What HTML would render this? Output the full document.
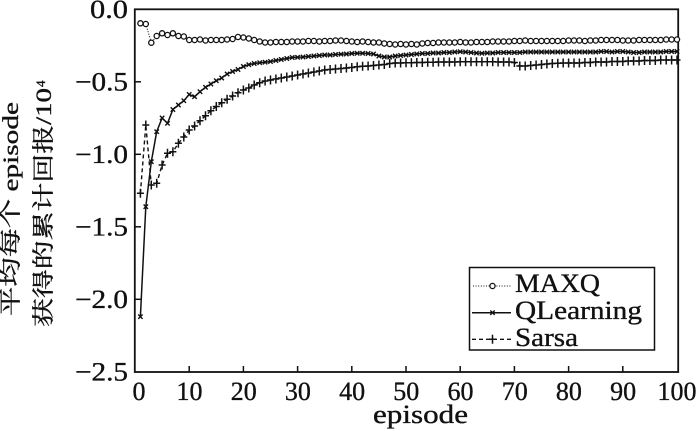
<!DOCTYPE html>
<html><head><meta charset="utf-8"><style>
html,body{margin:0;padding:0;background:#fff;}
svg{display:block;}
text{font-family:"Liberation Serif","Noto Serif CJK SC","Noto Sans CJK SC",serif;fill:#111;stroke:#111;stroke-width:0.35;}
</style></head><body>
<svg width="700" height="431" viewBox="0 0 700 431" xmlns="http://www.w3.org/2000/svg">
<defs>
<marker id="mc" markerUnits="userSpaceOnUse" markerWidth="8" markerHeight="8" refX="4" refY="4" overflow="visible"><circle cx="4" cy="4" r="2.6" fill="#fff" stroke="#111" stroke-width="1.3"/></marker>
<marker id="mx" markerUnits="userSpaceOnUse" markerWidth="8" markerHeight="8" refX="4" refY="4" overflow="visible"><path d="M1.8,1.8 L6.2,6.2 M1.8,6.2 L6.2,1.8" stroke="#111" stroke-width="1.4" fill="none"/></marker>
<marker id="mp" markerUnits="userSpaceOnUse" markerWidth="10" markerHeight="10" refX="5" refY="5" overflow="visible"><path d="M5,0.5 L5,9.5 M1.5,5 L8.5,5" stroke="#111" stroke-width="1.5" fill="none"/></marker>
</defs>
<rect x="0" y="0" width="700" height="431" fill="#fff"/>
<rect x="134.8" y="9.3" width="543.4" height="362.7" fill="none" stroke="#111" stroke-width="1.8"/>
<g stroke="#111" stroke-width="1.5">
<line x1="189.2" y1="372" x2="189.2" y2="366"/>
<line x1="243.4" y1="372" x2="243.4" y2="366"/>
<line x1="297.6" y1="372" x2="297.6" y2="366"/>
<line x1="351.8" y1="372" x2="351.8" y2="366"/>
<line x1="406" y1="372" x2="406" y2="366"/>
<line x1="460.2" y1="372" x2="460.2" y2="366"/>
<line x1="514.4" y1="372" x2="514.4" y2="366"/>
<line x1="568.6" y1="372" x2="568.6" y2="366"/>
<line x1="622.8" y1="372" x2="622.8" y2="366"/>
<line x1="135" y1="81.8" x2="141" y2="81.8"/>
<line x1="135" y1="154.3" x2="141" y2="154.3"/>
<line x1="135" y1="226.8" x2="141" y2="226.8"/>
<line x1="135" y1="299.3" x2="141" y2="299.3"/>
</g>
<g font-size="26" text-anchor="end">
<text x="128" y="18" textLength="38" lengthAdjust="spacingAndGlyphs">0.0</text>
<text x="128" y="90.5" textLength="53" lengthAdjust="spacingAndGlyphs">−0.5</text>
<text x="128" y="163" textLength="53" lengthAdjust="spacingAndGlyphs">−1.0</text>
<text x="128" y="235.5" textLength="53" lengthAdjust="spacingAndGlyphs">−1.5</text>
<text x="128" y="308" textLength="53" lengthAdjust="spacingAndGlyphs">−2.0</text>
<text x="128" y="380.5" textLength="53" lengthAdjust="spacingAndGlyphs">−2.5</text>
</g>
<g font-size="26" text-anchor="middle">
<text x="139" y="400">0</text>
<text x="189.5" y="400">10</text>
<text x="243.7" y="400">20</text>
<text x="297.9" y="400">30</text>
<text x="352.1" y="400">40</text>
<text x="406.3" y="400">50</text>
<text x="460.5" y="400">60</text>
<text x="514.7" y="400">70</text>
<text x="568.9" y="400">80</text>
<text x="623.1" y="400">90</text>
<text x="677" y="400">100</text>
</g>
<text x="373" y="423" font-size="26" textLength="95" lengthAdjust="spacingAndGlyphs">episode</text>
<text transform="translate(18,316) rotate(-90)" font-size="22" textLength="214" lengthAdjust="spacingAndGlyphs">平均每个 episode</text>
<text transform="translate(51,327) rotate(-90)" font-size="22" textLength="239" lengthAdjust="spacingAndGlyphs">获得的累计回报/10</text>
<text transform="translate(45,87) rotate(-90)" font-size="13">4</text>
<polyline fill="none" stroke="#111" stroke-width="1.4" stroke-dasharray="4,3" marker-start="url(#mp)" marker-mid="url(#mp)" marker-end="url(#mp)" points="140.4,193.3 145.8,125 151.3,185 156.7,183.3 162.1,165 167.5,153.3 172.9,151.7 178.4,143.3 183.8,137 189.2,130 194.6,126 200,120.7 205.5,115.7 210.9,110.7 216.3,106.5 221.7,102.7 227.1,99.3 232.6,96 238,92.7 243.4,90 248.8,88 254.2,85 259.7,82.7 265.1,81 270.5,80 275.9,79 281.3,78 286.8,77 292.2,76 297.6,75 303,74 308.4,73 313.9,72 319.3,71 324.7,70 330.1,69.5 335.5,69 341,68.5 346.4,68 351.8,67.5 357.2,66.7 362.6,66.3 368.1,66 373.5,65.5 378.9,65 384.3,64.5 389.7,63.5 395.2,63 400.6,63 406,62.7 411.4,62.7 416.8,62.5 422.3,62.5 427.7,62.3 433.1,62.2 438.5,62 443.9,62 449.4,62 454.8,62 460.2,61.8 465.6,61.7 471,61.7 476.5,61.7 481.9,61.7 487.3,61.7 492.7,61.7 498.1,62 503.6,62 509,62 514.4,62.5 519.8,66 525.2,66 530.7,65.5 536.1,65 541.5,64.5 546.9,64 552.3,63.5 557.8,63.3 563.2,63 568.6,63 574,63 579.4,63 584.9,62.5 590.3,62.5 595.7,62 601.1,62 606.5,62 612,61.5 617.4,61.5 622.8,61.5 628.2,61 633.6,61 639.1,61 644.5,60.5 649.9,60.5 655.3,60.5 660.7,60 666.2,60 671.6,60 677,60"/>
<polyline fill="none" stroke="#111" stroke-width="1.5" marker-start="url(#mx)" marker-mid="url(#mx)" marker-end="url(#mx)" points="140.4,316.7 145.8,206.7 151.3,161.7 156.7,131.7 162.1,118 167.5,123.3 172.9,109.5 178.4,105 183.8,100.7 189.2,94.5 194.6,96.7 200,91.7 205.5,87.3 210.9,84 216.3,80.7 221.7,78 227.1,74 232.6,71.5 238,69.5 243.4,66.5 248.8,64.7 254.2,63.5 259.7,62.7 265.1,62.2 270.5,61.5 275.9,60.5 281.3,59.5 286.8,58.5 292.2,57.5 297.6,57.3 303,57 308.4,56.5 313.9,56 319.3,55.5 324.7,55 330.1,55 335.5,54.5 341,54.2 346.4,54 351.8,53.5 357.2,53.3 362.6,53.3 368.1,53.5 373.5,54 378.9,56 384.3,57 389.7,57 395.2,56 400.6,55.5 406,55 411.4,54.5 416.8,54 422.3,53.5 427.7,53.5 433.1,53 438.5,53 443.9,52.5 449.4,52.5 454.8,52 460.2,51.7 465.6,52 471,52.5 476.5,53 481.9,53.3 487.3,53 492.7,53 498.1,52.5 503.6,52.5 509,52.5 514.4,52.5 519.8,52.5 525.2,52 530.7,52 536.1,52 541.5,52 546.9,52 552.3,52 557.8,52 563.2,52 568.6,52 574,52 579.4,52 584.9,52 590.3,52 595.7,52 601.1,51.5 606.5,51.5 612,52 617.4,51.5 622.8,51.5 628.2,52 633.6,52.5 639.1,52.5 644.5,52 649.9,52 655.3,52 660.7,52 666.2,51.5 671.6,51.5 677,51.5"/>
<polyline fill="none" stroke="#111" stroke-width="1.1" stroke-dasharray="1,1.6" marker-start="url(#mc)" marker-mid="url(#mc)" marker-end="url(#mc)" points="140.4,23.3 145.8,24 151.3,42.7 156.7,36 162.1,33.3 167.5,35 172.9,33.3 178.4,36 183.8,36.5 189.2,40 194.6,40 200,39.5 205.5,40.5 210.9,40 216.3,40 221.7,40 227.1,39.5 232.6,39 238,37 243.4,37.5 248.8,38.5 254.2,40 259.7,41.5 265.1,42.5 270.5,42.5 275.9,42 281.3,42 286.8,42 292.2,41.5 297.6,41.5 303,41.5 308.4,41 313.9,41 319.3,41.5 324.7,41 330.1,41 335.5,40.5 341,40.5 346.4,41 351.8,41.5 357.2,42 362.6,41.5 368.1,42 373.5,42.5 378.9,42.5 384.3,43.5 389.7,44 395.2,44.5 400.6,44 406,44.5 411.4,44 416.8,44.5 422.3,43.5 427.7,43 433.1,43 438.5,42.5 443.9,42.5 449.4,42.5 454.8,42.5 460.2,42 465.6,42.5 471,42.5 476.5,42 481.9,42 487.3,42 492.7,41.5 498.1,41.5 503.6,41.5 509,41.5 514.4,41 519.8,41 525.2,40.5 530.7,41 536.1,41 541.5,41 546.9,41 552.3,41 557.8,41 563.2,41 568.6,40.5 574,40.5 579.4,40.5 584.9,41 590.3,40.5 595.7,40.5 601.1,40 606.5,40 612,40 617.4,40 622.8,40.5 628.2,40.5 633.6,40.5 639.1,40 644.5,40 649.9,40 655.3,40 660.7,40 666.2,39.5 671.6,39.5 677,39.5"/>
<rect x="469.5" y="267.5" width="185" height="82.5" fill="#fff" stroke="#111" stroke-width="1.5"/>
<line x1="473" y1="286" x2="511" y2="286" stroke="#111" stroke-width="1.1" stroke-dasharray="1,1.6"/>
<circle cx="492.5" cy="286" r="2.6" fill="#fff" stroke="#111" stroke-width="1.3"/>
<line x1="472" y1="312.7" x2="511" y2="312.7" stroke="#111" stroke-width="1.5"/>
<path d="M490.3,310.5 L494.7,314.9 M490.3,314.9 L494.7,310.5" stroke="#111" stroke-width="1.4"/>
<line x1="472" y1="339.3" x2="511" y2="339.3" stroke="#111" stroke-width="1.4" stroke-dasharray="4,3"/>
<path d="M492.5,334.8 L492.5,343.8 M489,339.3 L496,339.3" stroke="#111" stroke-width="1.5"/>
<g font-size="26">
<text x="515" y="292" textLength="85" lengthAdjust="spacingAndGlyphs">MAXQ</text>
<text x="515" y="319" textLength="127" lengthAdjust="spacingAndGlyphs">QLearning</text>
<text x="515" y="346" textLength="63" lengthAdjust="spacingAndGlyphs">Sarsa</text>
</g>
</svg>
</body></html>
